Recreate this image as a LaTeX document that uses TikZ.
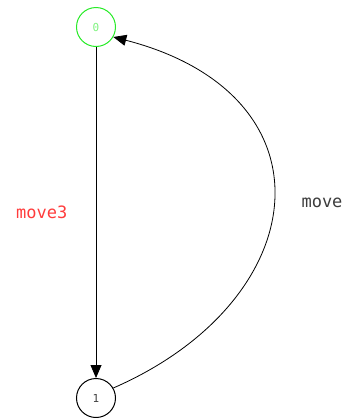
\documentclass[tikz,border=0pt]{standalone}
\usepackage{fontspec}
\setmonofont{DejaVu Sans Mono}
\usetikzlibrary{arrows.meta}

\definecolor{stategreen}{RGB}{40,235,40}
\definecolor{labelred}{RGB}{255,60,60}
\definecolor{labelgray}{RGB}{60,60,60}

\begin{document}
\begin{tikzpicture}[x=1pt, y=-1pt, every node/.style={font=\ttfamily},
    >={Triangle[length=13pt, width=11pt]}]

\useasboundingbox (0,0) rectangle (349,418);

% --- STATES ---
\node[draw=stategreen, circle, minimum size=39pt, inner sep=0pt, line width=1pt,
      text=stategreen!60, font=\ttfamily\fontsize{11}{11}\selectfont] (s0) at (96,27) {0};
\node[draw=black, circle, minimum size=39pt, inner sep=0pt, line width=1pt,
      text=black!75, font=\ttfamily\fontsize{11}{11}\selectfont] (s1) at (96,398) {1};

% --- TRANSITIONS ---
\draw[->, line width=0.8pt] (s0) -- (s1)
    node[midway, left=25pt, text=labelred, font=\ttfamily\fontsize{17}{17}\selectfont] {move3};
\draw[->, line width=0.8pt] (s1.30) .. controls (315,300) and (338,95) .. (s0.-30);

\node[text=labelgray, font=\ttfamily\fontsize{17}{17}\selectfont] (lmove) at (322,203) {move};

\end{tikzpicture}
\end{document}
